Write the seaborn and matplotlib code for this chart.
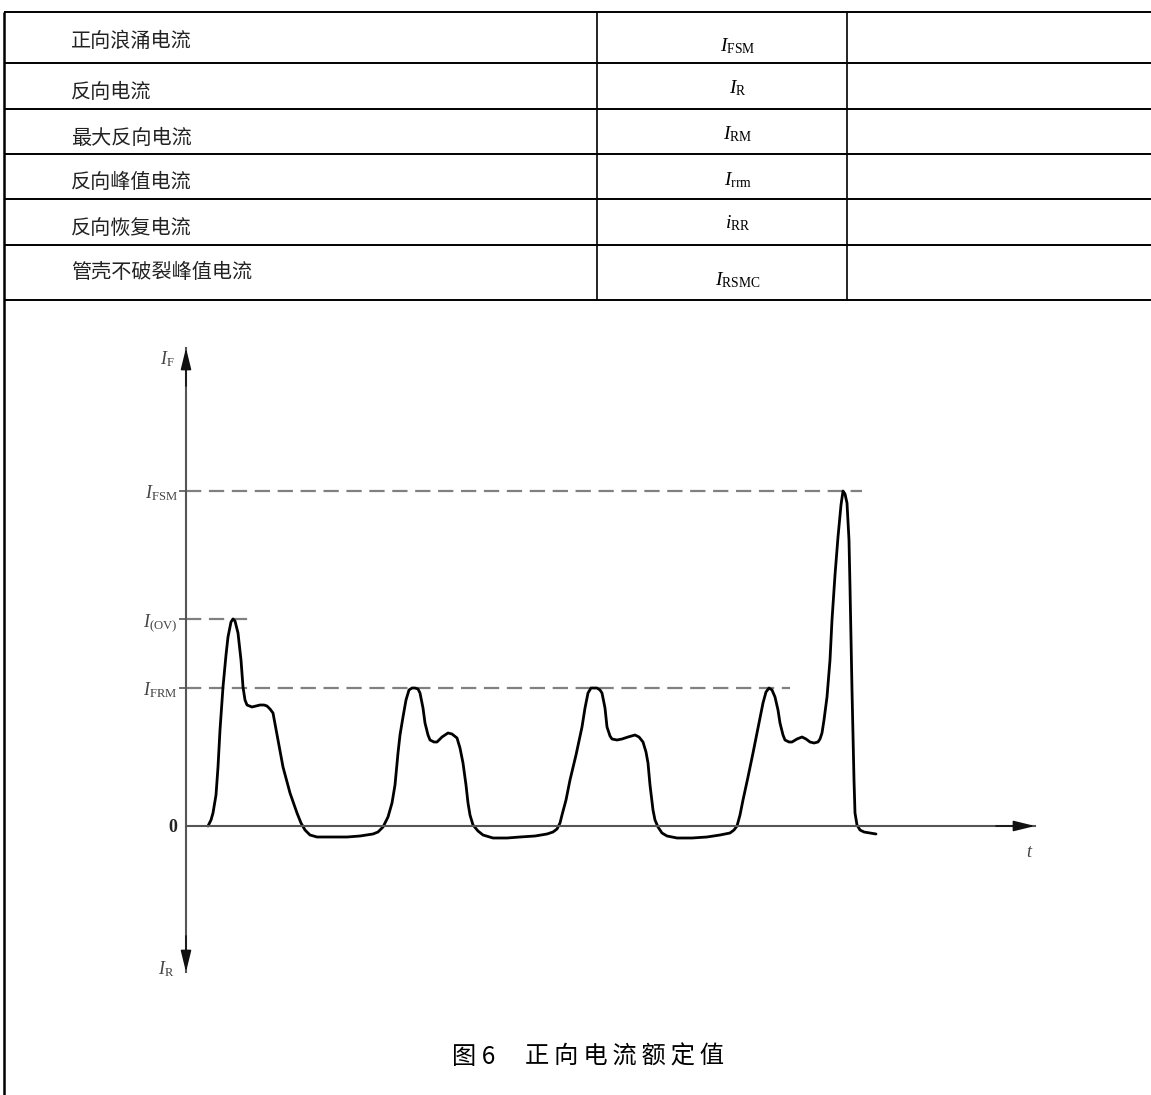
import numpy as np
import pandas as pd
import seaborn as sns
import matplotlib.pyplot as plt

# table contents
param_names = ['正向浪涌电流', '反向电流', '最大反向电流', '反向峰值电流', '反向恢复电流', '管壳不破裂峰值电流']
param_symbols = [r'$I_{\rm FSM}$', r'$I_{\rm R}$', r'$I_{\rm RM}$', r'$I_{\rm rrm}$', r'$i_{\rm RR}$', r'$I_{\rm RSMC}$']

# reference levels of the forward current (arbitrary units) and where their dashed lines end (time units)
level_labels = [r'$I_{\rm FSM}$', r'$I_{\rm (OV)}$', r'$I_{\rm FRM}$']
level_values = [3.35, 2.07, 1.38]
level_ends = [6.76, 0.67, 6.04]

# forward current waveform
t = [0.22, 0.25, 0.27, 0.30, 0.32, 0.34, 0.37, 0.40, 0.42, 0.45, 0.47, 0.49, 0.52, 0.55, 0.57, 0.59,
     0.61, 0.66, 0.70, 0.74, 0.78, 0.81, 0.84, 0.87, 0.92, 0.97, 1.04, 1.11, 1.15, 1.19, 1.24, 1.31,
     1.44, 1.61, 1.74, 1.87, 1.92, 1.97, 2.02, 2.06, 2.09, 2.12, 2.14, 2.17, 2.20, 2.23, 2.26, 2.29,
     2.32, 2.34, 2.37, 2.39, 2.42, 2.44, 2.48, 2.51, 2.56, 2.62, 2.66, 2.71, 2.74, 2.77, 2.80, 2.82,
     2.84, 2.87, 2.92, 2.97, 3.07, 3.21, 3.34, 3.49, 3.61, 3.67, 3.71, 3.74, 3.76, 3.80, 3.84, 3.90,
     3.96, 3.99, 4.02, 4.05, 4.08, 4.11, 4.14, 4.16, 4.19, 4.21, 4.24, 4.26, 4.31, 4.36, 4.42, 4.49,
     4.53, 4.57, 4.60, 4.62, 4.64, 4.67, 4.69, 4.72, 4.76, 4.81, 4.91, 5.06, 5.21, 5.34, 5.44, 5.48,
     5.51, 5.54, 5.57, 5.62, 5.67, 5.72, 5.77, 5.80, 5.83, 5.86, 5.89, 5.92, 5.94, 5.97, 5.99, 6.03,
     6.06, 6.11, 6.16, 6.20, 6.24, 6.28, 6.32, 6.34, 6.36, 6.38, 6.41, 6.44, 6.46, 6.49, 6.52, 6.55,
     6.57, 6.59, 6.61, 6.63, 6.64, 6.65, 6.66, 6.67, 6.68, 6.69, 6.71, 6.74, 6.78, 6.84, 6.90]
i_f = [0.00, 0.06, 0.13, 0.31, 0.59, 0.96, 1.39, 1.71, 1.89, 2.04, 2.07, 2.05, 1.93, 1.66, 1.39, 1.26,
       1.21, 1.19, 1.20, 1.21, 1.21, 1.20, 1.17, 1.13, 0.86, 0.59, 0.33, 0.13, 0.03, -0.04, -0.09, -0.11,
       -0.11, -0.11, -0.10, -0.08, -0.06, -0.01, 0.09, 0.23, 0.41, 0.73, 0.91, 1.09, 1.26, 1.36, 1.38, 1.38,
       1.37, 1.33, 1.18, 1.03, 0.91, 0.86, 0.84, 0.84, 0.89, 0.93, 0.92, 0.88, 0.78, 0.63, 0.41, 0.23,
       0.11, 0.01, -0.05, -0.09, -0.12, -0.12, -0.11, -0.10, -0.08, -0.06, -0.03, 0.03, 0.11, 0.26, 0.46, 0.71,
       0.99, 1.18, 1.33, 1.38, 1.38, 1.38, 1.36, 1.33, 1.18, 0.99, 0.90, 0.87, 0.86, 0.87, 0.89, 0.91,
       0.89, 0.84, 0.74, 0.63, 0.41, 0.16, 0.06, -0.01, -0.07, -0.10, -0.12, -0.12, -0.11, -0.09, -0.07, -0.04,
       0.00, 0.11, 0.26, 0.49, 0.73, 0.98, 1.23, 1.34, 1.38, 1.36, 1.29, 1.16, 1.03, 0.91, 0.86, 0.84,
       0.84, 0.87, 0.89, 0.87, 0.84, 0.83, 0.84, 0.87, 0.93, 1.06, 1.29, 1.66, 2.06, 2.51, 2.89, 3.21,
       3.35, 3.32, 3.23, 2.86, 2.39, 1.86, 1.36, 0.89, 0.46, 0.13, 0.01, -0.04, -0.06, -0.07, -0.08]

sns.set_style('white')
plt.rcParams['font.family'] = ['Noto Sans CJK SC', 'DejaVu Sans']
plt.rcParams['mathtext.fontset'] = 'custom'
plt.rcParams['mathtext.rm'] = 'Liberation Serif'
plt.rcParams['mathtext.it'] = 'Liberation Serif:italic'
plt.rcParams['lines.scale_dashes'] = False

fig = plt.figure(figsize=(11.51, 10.95), dpi=100)

# page layer in pixel units: table grid and caption
page = fig.add_axes([0, 0, 1, 1])
page.set_xlim(0, 1151)
page.set_ylim(1095, 0)
page.axis('off')
page.hlines([12, 63, 109, 154, 199, 245, 300], 4, 1151, color='black', lw=1.4)
page.vlines([597, 847], 12, 300, color='black', lw=1.2)
page.vlines(4, 12, 1095, color='black', lw=1.8)

name_y = [41, 92, 138, 183, 228, 273]
sym_y = [46, 88, 134, 180, 223, 280]
for name, sym, ny, sy in zip(param_names, param_symbols, name_y, sym_y):
    page.text(71, ny, name, fontsize=14.5, ha='left', va='center', color='#222222')
    page.text(738, sy, sym, fontsize=14, ha='center', va='center', color='black')

# caption, spread out like the letter-spaced original
page.text(474, 1057, '图 6', fontsize=17.5, fontweight='medium', ha='center', va='center', color='black')
page.text(625, 1057, '正 向 电 流 额 定 值'.replace(' ', '\u2009'), fontsize=17.5, fontweight='medium',
          ha='center', va='center', color='black', family=['Noto Sans CJK SC', 'DejaVu Sans'])

# the diagram
ax = fig.add_axes([186 / 1151, 123 / 1095, 849 / 1151, 624 / 1095])
ax.set_xlim(0, 8.49)
ax.set_ylim(-1.46, 4.78)

for val, end in zip(level_values, level_ends):
    ax.plot([0, end], [val, val], color='#808080', lw=1.6, dashes=(11, 5.5))

sns.lineplot(x=t, y=i_f, ax=ax, sort=False, estimator=None, color='black', lw=2.0,
             solid_joinstyle='round', solid_capstyle='round')

for side in ['top', 'right']:
    ax.spines[side].set_visible(False)
ax.spines['left'].set_color('#555555')
ax.spines['left'].set_linewidth(1.5)
ax.spines['bottom'].set_position(('data', 0))
ax.spines['bottom'].set_color('#555555')
ax.spines['bottom'].set_linewidth(1.5)

ax.set_xticks([])
ax.set_yticks([0] + level_values)
ax.set_yticklabels(['0'] + level_labels)
ax.tick_params(axis='y', left=True, length=5, width=1.2, color='#555555', pad=1,
               labelsize=13, labelcolor='#444444')
zero_tick = ax.yaxis.get_major_ticks()[0]
zero_tick.tick1line.set_visible(False)
zero_tick.label1.set_fontfamily('Liberation Serif')
zero_tick.label1.set_fontweight('bold')
zero_tick.label1.set_fontsize(13)
zero_tick.label1.set_color('#222222')

head = dict(arrowstyle='-|>,head_length=0.65,head_width=0.16', color='#111111', lw=1.2,
            mutation_scale=20, shrinkA=0, shrinkB=0)
ax.annotate('', xy=(0, 4.78), xytext=(0, 4.4), arrowprops=head, annotation_clip=False)
ax.annotate('', xy=(0, -1.46), xytext=(0, -1.1), arrowprops=head, annotation_clip=False)
ax.annotate('', xy=(8.49, 0), xytext=(8.1, 0), arrowprops=head, annotation_clip=False)

ax.annotate(r'$I_{\rm F}$', xy=(0, 4.78), xytext=(-19, -11), textcoords='offset pixels',
            ha='center', va='center', fontsize=13, color='#444444', annotation_clip=False)
ax.annotate(r'$I_{\rm R}$', xy=(0, -1.46), xytext=(-20, 3), textcoords='offset pixels',
            ha='center', va='center', fontsize=13, color='#444444', annotation_clip=False)
ax.annotate(r'$t$', xy=(8.49, 0), xytext=(-5, -26), textcoords='offset pixels',
            ha='center', va='center', fontsize=13, color='#444444', annotation_clip=False)

fig.savefig('out.png', dpi=100)
